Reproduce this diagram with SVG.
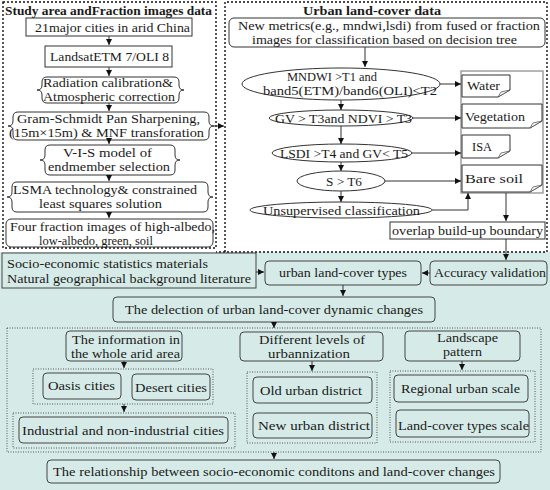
<svg xmlns="http://www.w3.org/2000/svg" width="550" height="490" viewBox="0 0 550 490">
<defs>
<style>
text{font-family:"Liberation Serif","Times New Roman",serif;font-size:12.5px;fill:#1a1a1a}
.t{font-weight:bold;font-size:12px}
.L{font-size:13.5px}
.b{fill:#fff;stroke:#333;stroke-width:1}
.gb{fill:none;stroke:#888;stroke-width:1.2}
.f{fill:none;stroke:#444;stroke-width:1}
.d{fill:none;stroke:#111;stroke-width:1.4;stroke-dasharray:2 2}
.dd{fill:none;stroke:#555;stroke-width:1;stroke-dasharray:1 1.5}
.l{fill:none;stroke:#333;stroke-width:1;marker-end:url(#a)}
.fold{fill:#fff;stroke:#555;stroke-width:0.8}
</style>
<marker id="a" markerWidth="7" markerHeight="7" refX="6" refY="3" orient="auto" markerUnits="userSpaceOnUse">
<path d="M0,0 L6,3 L0,6 z" fill="#111"/>
</marker>
</defs>
<rect x="0" y="0" width="550" height="490" fill="#fff"/>
<rect x="0" y="252" width="550" height="238" fill="#d6ebe7"/>

<!-- dashed containers -->
<g id="study-area">
<rect class="d" x="3" y="2" width="213" height="246"/>
<text class="t" x="5" y="15" textLength="207" lengthAdjust="spacingAndGlyphs">Study area andFraction images data</text>
</g>
<g id="urban-landcover">
<path class="d" d="M225,252 V2 H547 V252 H216"/>
<text class="t" x="303" y="15" textLength="138" lengthAdjust="spacingAndGlyphs">Urban land-cover  data</text>
</g>

<!-- left nodes -->
<g id="n-cities"><rect class="b" x="26" y="18" width="166" height="18"/><text class="L" x="35" y="32" textLength="155" lengthAdjust="spacingAndGlyphs">21major cities in arid China</text></g>
<g id="n-landsat"><rect class="b" x="45" y="46" width="127" height="21"/><text class="L" x="50" y="61" textLength="119" lengthAdjust="spacingAndGlyphs">LandsatETM 7/OLI 8</text></g>
<g id="n-radiation">
<path class="b" d="M47,77 H174 Q179,77 179,82 V85 Q179,90 184,90 Q179,90 179,95 V98 Q179,103 174,103 H47 Q42,103 42,98 V95 Q42,90 37,90 Q42,90 42,85 V82 Q42,77 47,77 Z"/>
<text x="43" y="87" textLength="130" lengthAdjust="spacingAndGlyphs">Radiation calibration&amp;</text><text x="43" y="101" textLength="132" lengthAdjust="spacingAndGlyphs">Atmospheric correction</text></g>
<g id="n-gram">
<path class="b" d="M18,112 H204 Q209,112 209,117 V121 Q209,126 214,126 Q209,126 209,131 V135 Q209,140 204,140 H18 Q13,140 13,135 V131 Q13,126 8,126 Q13,126 13,121 V117 Q13,112 18,112 Z"/>
<text x="17" y="123" textLength="183" lengthAdjust="spacingAndGlyphs">Gram-Schmidt Pan Sharpening,</text><text x="9" y="137" textLength="195" lengthAdjust="spacingAndGlyphs">(15m×15m) &amp; MNF transforation</text></g>
<g id="n-vis">
<path class="b" d="M50,145 H170 Q175,145 175,150 V155 Q175,160 180,160 Q175,160 175,165 V170 Q175,175 170,175 H50 Q45,175 45,170 V165 Q45,160 40,160 Q45,160 45,155 V150 Q45,145 50,145 Z"/>
<text x="63" y="157" textLength="89" lengthAdjust="spacingAndGlyphs">V-I-S model of</text><text x="48" y="171" textLength="122" lengthAdjust="spacingAndGlyphs">endmember selection</text></g>
<g id="n-lsma">
<path class="b" d="M17,182 H203 Q208,182 208,187 V192 Q208,197 213,197 Q208,197 208,202 V207 Q208,212 203,212 H17 Q12,212 12,207 V202 Q12,197 7,197 Q12,197 12,192 V187 Q12,182 17,182 Z"/>
<text x="13" y="194" textLength="184" lengthAdjust="spacingAndGlyphs">LSMA technology&amp; constrained</text><text x="39" y="208" textLength="123" lengthAdjust="spacingAndGlyphs">least squares solution</text></g>
<g id="n-four">
<rect class="b" x="6" y="219" width="207" height="28" rx="5"/>
<text x="10" y="231" textLength="205" lengthAdjust="spacingAndGlyphs">Four fraction images of high-albedo,</text><text x="39" y="245" textLength="114" lengthAdjust="spacingAndGlyphs">low-albedo, green, soil</text></g>

<!-- right nodes -->
<g id="n-metrics">
<rect class="b" x="229" y="18" width="316" height="29" rx="5"/>
<text x="238" y="30" textLength="302" lengthAdjust="spacingAndGlyphs">New metrics(e.g., mndwi,lsdi) from fused or fraction</text>
<text x="252" y="44" textLength="265" lengthAdjust="spacingAndGlyphs">images for classification based on decision tree</text></g>
<g id="n-mndwi">
<ellipse class="b" cx="341" cy="84" rx="99" ry="16"/>
<text x="287" y="81" textLength="90" lengthAdjust="spacingAndGlyphs">MNDWI &gt;T1 and</text><text x="263" y="95" textLength="174" lengthAdjust="spacingAndGlyphs">band5(ETM)/band6(OLI)&lt;T2</text></g>
<g id="n-gv">
<ellipse class="b" cx="341" cy="118" rx="72" ry="8"/>
<text class="L" x="275" y="123" textLength="137" lengthAdjust="spacingAndGlyphs">GV &gt; T3and NDVI &gt; T3</text></g>
<g id="n-lsdi">
<ellipse class="b" cx="342" cy="153" rx="70" ry="9"/>
<text class="L" x="280" y="158" textLength="128" lengthAdjust="spacingAndGlyphs">LSDI &gt;T4 and GV&lt; T5</text></g>
<g id="n-s">
<ellipse class="b" cx="341" cy="181" rx="44" ry="10"/>
<text class="L" x="326" y="186" textLength="36" lengthAdjust="spacingAndGlyphs">S &gt; T6</text></g>
<g id="n-unsup">
<ellipse class="b" cx="341" cy="210" rx="91" ry="8"/>
<text class="L" x="263" y="215" textLength="157" lengthAdjust="spacingAndGlyphs">Unsupervised classification</text></g>

<g id="n-classes">
<rect class="gb" x="461" y="71" width="82" height="122"/>
<g id="n-water"><path class="b" d="M462,75 H510 V90 L498,97 H462 Z"/><path class="fold" d="M498,97 L501,92 L510,90 Z"/><text class="L" x="467" y="90" textLength="33" lengthAdjust="spacingAndGlyphs">Water</text></g>
<g id="n-veg"><path class="b" d="M462,104 H542 V121 L530,128 H462 Z"/><path class="fold" d="M530,128 L533,123 L542,121 Z"/><text class="L" x="465" y="121" textLength="60" lengthAdjust="spacingAndGlyphs">Vegetation</text></g>
<g id="n-isa"><path class="b" d="M462,135 H510 V151 L498,158 H462 Z"/><path class="fold" d="M498,158 L501,153 L510,151 Z"/><text class="L" x="472" y="151" textLength="20" lengthAdjust="spacingAndGlyphs">ISA</text></g>
<g id="n-bare"><path class="b" d="M462,165 H542 V185 L530,192 H462 Z"/><path class="fold" d="M530,192 L533,187 L542,185 Z"/><text class="L" x="465" y="183" textLength="58" lengthAdjust="spacingAndGlyphs">Bare soil</text></g>
</g>
<g id="n-overlap"><rect class="b" x="390" y="222" width="155" height="17"/><text x="392" y="235" textLength="151" lengthAdjust="spacingAndGlyphs">overlap build-up boundary</text></g>

<!-- bottom nodes -->
<g id="n-socio"><rect class="f" x="2" y="253" width="254" height="35"/>
<text x="7" y="268" textLength="201" lengthAdjust="spacingAndGlyphs">Socio-economic statistics materials</text><text x="7" y="283" textLength="244" lengthAdjust="spacingAndGlyphs">Natural geographical background literature</text></g>
<g id="n-urban"><rect class="f" x="265" y="261" width="156" height="24" rx="4"/><text class="L" x="279" y="277" textLength="128" lengthAdjust="spacingAndGlyphs">urban land-cover types</text></g>
<g id="n-accuracy"><rect class="f" x="430" y="261" width="117" height="24" rx="4"/><text class="L" x="434" y="277" textLength="112" lengthAdjust="spacingAndGlyphs">Accuracy validation</text></g>
<g id="n-delection"><rect class="f" x="113" y="297" width="322" height="25" rx="4"/><text class="L" x="125" y="314" textLength="298" lengthAdjust="spacingAndGlyphs">The delection of urban land-cover dynamic changes</text></g>

<rect class="dd" x="7" y="328" width="534" height="124"/>
<g id="n-info"><rect class="f" x="66" y="331" width="116" height="30" rx="4"/><text x="72" y="344" textLength="108" lengthAdjust="spacingAndGlyphs">The information in</text><text x="71" y="358" textLength="109" lengthAdjust="spacingAndGlyphs">the whole arid area</text></g>
<rect class="dd" x="33" y="369" width="180" height="35"/>
<g id="n-oasis"><rect class="f" x="43" y="373" width="78" height="26" rx="4"/><text class="L" x="48" y="390" textLength="67" lengthAdjust="spacingAndGlyphs">Oasis cities</text></g>
<g id="n-desert"><rect class="f" x="132" y="374" width="78" height="26" rx="4"/><text class="L" x="135" y="392" textLength="72" lengthAdjust="spacingAndGlyphs">Desert cities</text></g>
<rect class="dd" x="13" y="413" width="222" height="35"/>
<g id="n-industrial"><rect class="f" x="19" y="417" width="209" height="26" rx="4"/><text class="L" x="22" y="435" textLength="202" lengthAdjust="spacingAndGlyphs">Industrial and non-industrial cities</text></g>

<g id="n-levels"><rect class="f" x="240" y="332" width="143" height="29" rx="4"/><text x="259" y="344" textLength="106" lengthAdjust="spacingAndGlyphs">Different levels of</text><text x="268" y="358" textLength="82" lengthAdjust="spacingAndGlyphs">urbannization</text></g>
<rect class="dd" x="247" y="372" width="130" height="71"/>
<g id="n-old"><rect class="f" x="253" y="377" width="119" height="26" rx="4"/><text class="L" x="260" y="395" textLength="102" lengthAdjust="spacingAndGlyphs">Old urban district</text></g>
<g id="n-new"><rect class="f" x="253" y="413" width="119" height="25" rx="4"/><text class="L" x="258" y="430" textLength="112" lengthAdjust="spacingAndGlyphs">New urban district</text></g>

<g id="n-landscape"><rect class="f" x="405" y="331" width="115" height="30" rx="4"/><text x="437" y="342" textLength="61" lengthAdjust="spacingAndGlyphs">Landscape</text><text x="443" y="356" textLength="39" lengthAdjust="spacingAndGlyphs">pattern</text></g>
<rect class="dd" x="390" y="371" width="145" height="71"/>
<g id="n-regional"><rect class="f" x="394" y="375" width="134" height="27" rx="4"/><text class="L" x="401" y="393" textLength="119" lengthAdjust="spacingAndGlyphs">Regional urban scale</text></g>
<g id="n-lctypes"><rect class="f" x="396" y="410" width="133" height="27" rx="4"/><text class="L" x="398" y="430" textLength="131" lengthAdjust="spacingAndGlyphs">Land-cover types scale</text></g>

<g id="n-relationship"><rect class="f" x="47" y="460" width="453" height="23" rx="4"/><text class="L" x="53" y="476" textLength="442" lengthAdjust="spacingAndGlyphs">The relationship between socio-economic conditons and land-cover changes</text></g>

<!-- connectors -->
<g id="connectors">
<path class="l" d="M109,36 V45"/>
<path class="l" d="M109,67 V76"/>
<path class="l" d="M109,103 V111"/>
<path class="l" d="M109,140 V144"/>
<path class="l" d="M109,175 V181"/>
<path class="l" d="M109,212 V218"/>
<path class="l" d="M214,126 H224"/>
<path class="l" d="M365,47 V67"/>
<path class="l" d="M440,84 H461"/>
<path class="l" d="M341,100 V110"/>
<path class="l" d="M413,118 H461"/>
<path class="l" d="M341,126 V144"/>
<path class="l" d="M412,153 H461"/>
<path class="l" d="M341,162 V171"/>
<path class="l" d="M385,181 H461"/>
<path class="l" d="M341,191 V202"/>
<path class="l" d="M432,210 H468 V193"/>
<path class="l" d="M506,193 V221"/>
<path class="l" d="M506,239 V260"/>
<path class="l" d="M256,272 H264"/>
<path class="l" d="M430,273 H422"/>
<path class="l" d="M343,285 V296"/>
<path class="l" d="M274,322 V328"/>
<path class="l" d="M124,361 V368"/>
<path class="l" d="M124,404 V412"/>
<path class="l" d="M312,361 V371"/>
<path class="l" d="M462,361 V370"/>
<path class="l" d="M274,452 V459"/>
</g>
</svg>
